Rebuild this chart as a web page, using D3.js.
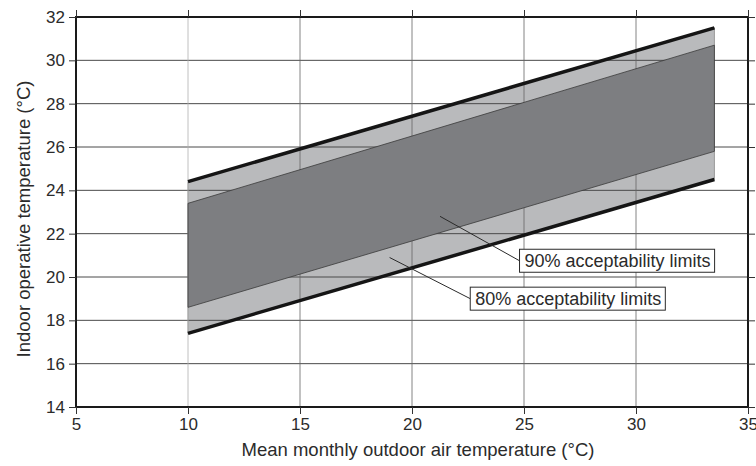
<!DOCTYPE html>
<html>
<head>
<meta charset="utf-8">
<script src="https://cdn.jsdelivr.net/npm/d3@7"></script>
<style>
  body { margin: 0; background: #fff; }
  text { font-family: "Liberation Sans", Arial, sans-serif; fill: #2b2b2b; }
</style>
</head>
<body>
<script>
(function(){

    //band end points (mean monthly outdoor temp)
    var outdoorTemp = [10, 33.5];
    //indoor operative temperature limits
    var upper80 = [24.4, 31.5];
    var upper90 = [23.4, 30.7];
    var lower90 = [18.6, 25.8];
    var lower80 = [17.4, 24.5];

    var xTicks = [5, 10, 15, 20, 25, 30, 35];
    var yTicks = [14, 16, 18, 20, 22, 24, 26, 28, 30, 32];

    //labels: [text, leader start x, leader start y, box x, box y]
    var notes = [
        ["90% acceptability limits", 21.25, 22.8, 24.8, 20.75],
        ["80% acceptability limits", 19.0, 20.9, 22.6, 19.0]
    ];

    var width = 756, height = 466;
    var margin = {left: 76, right: 8, top: 17, bottom: 59};

    var svg = d3.select("body").append("svg")
        .attr("width", width)
        .attr("height", height);

    var x = d3.scaleLinear().domain([5, 35]).range([margin.left, width - margin.right]);
    var y = d3.scaleLinear().domain([14, 32]).range([height - margin.bottom, margin.top]);

    //build band rows
    var rows = outdoorTemp.map(function(t, i){
        return {t: t, u80: upper80[i], u90: upper90[i], l90: lower90[i], l80: lower80[i]};
    });

    var area80 = d3.area().x(function(d){ return x(d.t); })
        .y0(function(d){ return y(d.l80); }).y1(function(d){ return y(d.u80); });
    var area90 = d3.area().x(function(d){ return x(d.t); })
        .y0(function(d){ return y(d.l90); }).y1(function(d){ return y(d.u90); });

    //light band (80%)
    svg.append("path").datum(rows)
        .attr("d", area80)
        .attr("fill", "#b9babc")
        .attr("stroke", "#9a9a9a")
        .attr("stroke-width", 1);

    //grid lines
    var grid = svg.append("g");
    grid.selectAll(".hgrid").data(yTicks.slice(1, -1)).enter().append("line")
        .attr("x1", x(5)).attr("x2", x(35))
        .attr("y1", function(d){ return y(d); }).attr("y2", function(d){ return y(d); })
        .attr("stroke", "#4a4a4a").attr("stroke-width", 1);
    grid.selectAll(".vgrid").data(xTicks.slice(1, -1)).enter().append("line")
        .attr("x1", function(d){ return x(d); }).attr("x2", function(d){ return x(d); })
        .attr("y1", y(14)).attr("y2", y(32))
        .attr("stroke", function(d){ return d == 10 ? "#b0b0b0" : "#666"; })
        .attr("stroke-width", 0.8);

    //dark band (90%)
    svg.append("path").datum(rows)
        .attr("d", area90)
        .attr("fill", "#7d7e81")
        .attr("stroke", "#3a3a3a")
        .attr("stroke-width", 0.8);

    //thick 80% boundary lines
    ["u80", "l80"].forEach(function(k){
        svg.append("path").datum(rows)
            .attr("d", d3.line().x(function(d){ return x(d.t); }).y(function(d){ return y(d[k]); }))
            .attr("fill", "none")
            .attr("stroke", "#151515")
            .attr("stroke-width", 3.5);
    });

    //frame and axes
    svg.append("rect")
        .attr("x", x(5)).attr("y", y(32))
        .attr("width", x(35) - x(5)).attr("height", y(14) - y(32))
        .attr("fill", "none").attr("stroke", "#1a1a1a").attr("stroke-width", 2);

    function styleAxis(g){
        g.select(".domain").remove();
        g.selectAll(".tick line").attr("stroke", "#333").attr("stroke-width", 1);
        g.selectAll(".tick text").style("font-size", "17px").attr("fill", "#2b2b2b");
    }

    svg.append("g").attr("transform", "translate(0," + y(14) + ")")
        .call(d3.axisBottom(x).tickValues(xTicks).tickSize(7).tickPadding(4))
        .call(styleAxis);
    svg.append("g").attr("transform", "translate(0," + y(32) + ")")
        .call(d3.axisTop(x).tickValues(xTicks).tickSize(7).tickFormat(""))
        .call(styleAxis);
    svg.append("g").attr("transform", "translate(" + x(5) + ",0)")
        .call(d3.axisLeft(y).tickValues(yTicks).tickSize(7).tickPadding(4))
        .call(styleAxis);
    svg.append("g").attr("transform", "translate(" + x(35) + ",0)")
        .call(d3.axisRight(y).tickValues(yTicks).tickSize(7).tickFormat(""))
        .call(styleAxis);

    //annotations
    notes.forEach(function(n){
        var bx = x(n[3]), by = y(n[4]);
        svg.append("line")
            .attr("x1", x(n[1])).attr("y1", y(n[2]))
            .attr("x2", bx).attr("y2", by)
            .attr("stroke", "#2a2a2a").attr("stroke-width", 1);
        var box = svg.append("g");
        var rect = box.append("rect");
        var t = box.append("text")
            .attr("x", bx + 5).attr("y", by + 6.5)
            .style("font-size", "18px")
            .text(n[0]);
        var w = t.node().getComputedTextLength();
        rect.attr("x", bx).attr("y", by - 11.5)
            .attr("width", w + 9).attr("height", 23)
            .attr("fill", "#fff").attr("stroke", "#2a2a2a").attr("stroke-width", 1);
    });

    //axis titles
    svg.append("text")
        .attr("x", 418).attr("y", 456)
        .attr("text-anchor", "middle")
        .style("font-size", "18.5px")
        .text("Mean monthly outdoor air temperature (°C)");
    svg.append("text")
        .attr("transform", "translate(30," + 219 + ") rotate(-90)")
        .attr("text-anchor", "middle")
        .style("font-size", "18.5px")
        .text("Indoor operative temperature (°C)");

})();
</script>
</body>
</html>
